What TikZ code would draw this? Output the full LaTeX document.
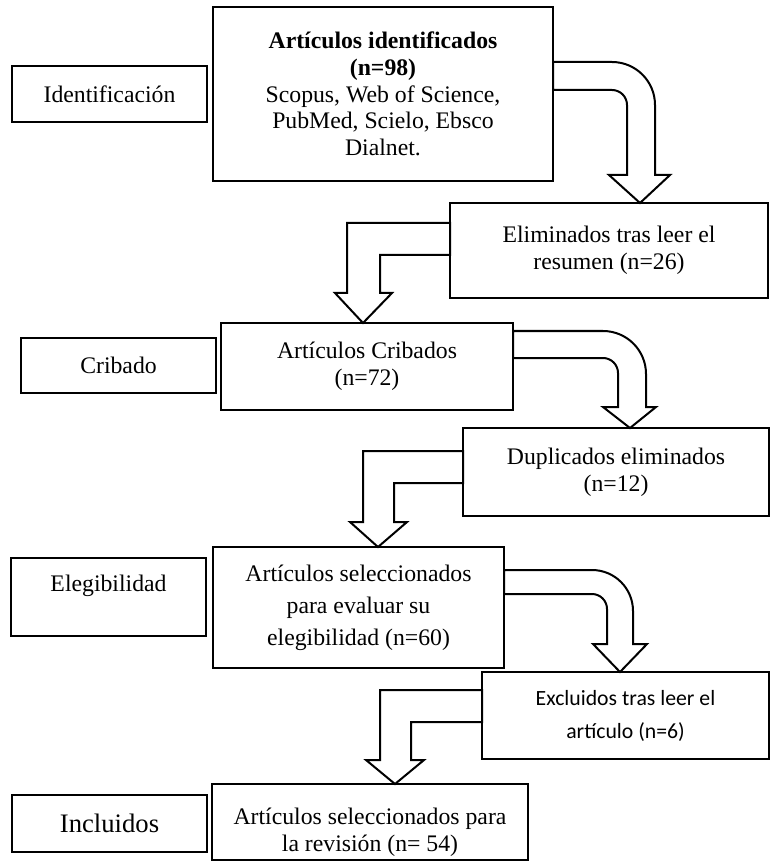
\documentclass[tikz,border=0pt]{standalone}
\usepackage{fontspec}
\setmainfont{Liberation Serif}
\newfontfamily\calib{Carlito}
\tikzset{
  bx/.style={draw, line width=1.5pt, outer sep=0pt, inner sep=0pt, align=center, fill=white,
    font=\fontsize{17.8}{20}\selectfont},
  barrow/.style={draw, line width=1.5pt, fill=white, line join=miter},
}
\begin{document}
\begin{tikzpicture}[x=0.75pt, y=-0.75pt]
\useasboundingbox (0,0) rectangle (775,862);
% stage labels
\node[bx, minimum width=146.25pt, minimum height=42pt] (id) at (109.5,94) {Identificación};
\node[bx, minimum width=146.25pt, minimum height=41.25pt] (crib) at (118.5,365.5) {Cribado};
\node[bx, minimum width=146.25pt, minimum height=58.5pt, text height=12pt, text depth=21pt] (eleg) at (108.5,597) {Elegibilidad};
\node[bx, minimum width=146.25pt, minimum height=42.75pt, font=\fontsize{20}{24}\selectfont] (incl) at (109.5,823.5) {Incluidos};
% flow boxes
\node[bx, minimum width=255pt, minimum height=130.5pt] (b1) at (383,94)
  {\textbf{Artículos identificados}\\ \textbf{(n=98)}\\ Scopus, Web of Science,\\ PubMed, Scielo, Ebsco\\ Dialnet.};
\node[bx, minimum width=238.5pt, minimum height=71.25pt] (b2) at (609,250.5)
  {Eliminados tras leer el\\ resumen (n=26)};
\node[bx, minimum width=219pt, minimum height=65.25pt] (b3) at (367,366.5)
  {Artículos Cribados\\ (n=72)};
\node[bx, minimum width=229.5pt, minimum height=66pt] (b4) at (616,472)
  {Duplicados eliminados\\ (n=12)};
\node[bx, minimum width=218.25pt, minimum height=90.75pt, font=\fontsize{17.8}{24}\selectfont] (b5) at (358.5,607.5)
  {Artículos seleccionados\\ para evaluar su\\ elegibilidad (n=60)};
\node[bx, minimum width=215.25pt, minimum height=65.25pt, font=\calib\fontsize{16.3}{24.75}\selectfont] (b6) at (625.5,715.5)
  {Excluidos tras leer el\\ artículo (n=6)};
\node[bx, minimum width=237pt, minimum height=57pt, text height=50pt, text depth=6pt] (b7) at (370,822)
  {Artículos seleccionados para\\ la revisión (n= 54)};
% bent block arrows (right side, rounded)
\draw[barrow] (b1.east |- 0,62) -- (612,62) .. controls (635.75,62) and (655,81.25) .. (655,105)
  -- (655,175) -- (670,175) -- (b2.north -| 640,0) -- (609,175) -- (627,175) -- (627,105)
  .. controls (627,96.72) and (620.28,90) .. (612,90) -- (b1.east |- 0,90) -- cycle;
\draw[barrow] (b3.east |- 0,331) -- (603,331) .. controls (626.75,331) and (646,350.25) .. (646,374)
  -- (646,407) -- (656,407) -- (b4.north -| 630,0) -- (603,407) -- (618,407) -- (618,373)
  .. controls (618,364.72) and (611.28,358) .. (603,358) -- (b3.east |- 0,358) -- cycle;
\draw[barrow] (b5.east |- 0,570) -- (592,570) .. controls (614.64,570) and (633,588.36) .. (633,611)
  -- (633,644) -- (647,644) -- (b6.north -| 620,0) -- (593,644) -- (607,644) -- (607,609)
  .. controls (607,600.72) and (600.28,594) .. (592,594) -- (b5.east |- 0,594) -- cycle;
% bent block arrows (left side, square)
\draw[barrow] (b2.west |- 0,223) -- (347,223) -- (347,293) -- (335,293) -- (b3.north -| 363,0)
  -- (392,293) -- (380,293) -- (380,255) -- (b2.west |- 0,255) -- cycle;
\draw[barrow] (b4.west |- 0,451) -- (363,451) -- (363,522) -- (350,522) -- (b5.north -| 378,0)
  -- (407,522) -- (394,522) -- (394,483) -- (b4.west |- 0,483) -- cycle;
\draw[barrow] (b6.west |- 0,690) -- (380,690) -- (380,760) -- (366,760) -- (b7.north -| 395,0)
  -- (424,760) -- (411,760) -- (411,722) -- (b6.west |- 0,722) -- cycle;
\end{tikzpicture}
\end{document}
